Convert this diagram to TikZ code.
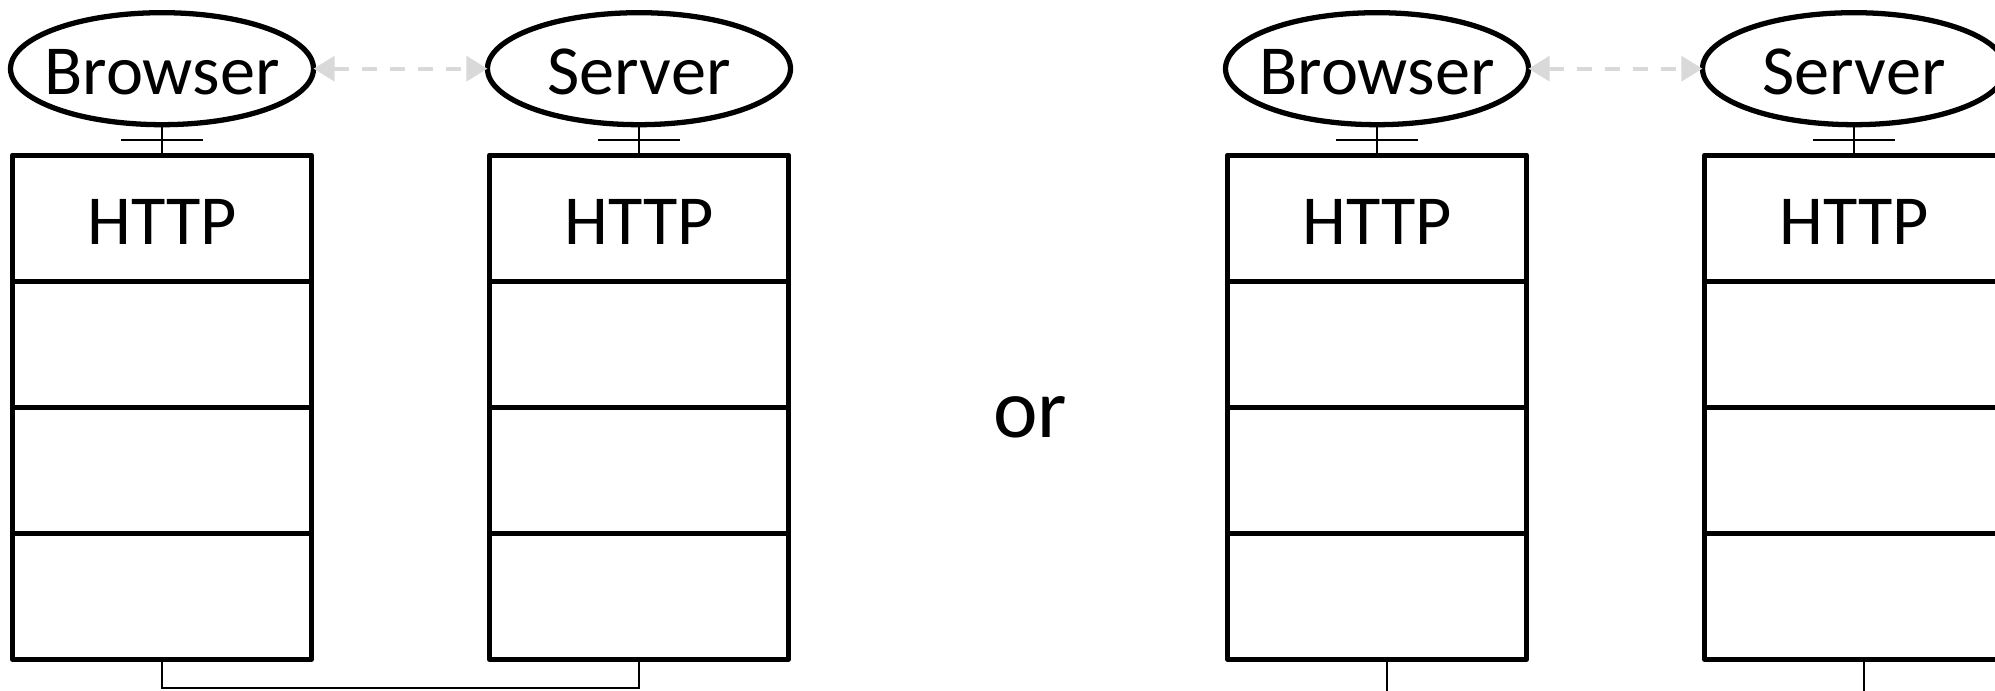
\documentclass[tikz,border=0pt]{standalone}
\usepackage{fontspec}
\setmainfont{Carlito}
\usetikzlibrary{shapes.geometric,positioning,arrows.meta}

\tikzset{
  host/.style={ellipse, draw, line width=1.5pt, minimum width=3.03cm, minimum height=1.12cm,
    inner xsep=-0.15cm, inner ysep=0pt, outer sep=0pt, text height=15pt,
    font=\fontsize{20}{24}\selectfont},
  layer/.style={rectangle, draw, line width=1.5pt, line join=round, minimum width=2.99cm,
    minimum height=1.26cm, inner sep=0pt, outer sep=0pt, text height=15pt,
    font=\fontsize{20}{24}\selectfont},
  link/.style={line width=0.65pt},
  peer/.style={line width=1.2pt, draw=gray!30, dash pattern=on 4.3pt off 3.7pt,
    {Triangle[length=6pt,width=7pt]}-{Triangle[length=6pt,width=7pt]}}
}

\begin{document}
\begin{tikzpicture}
\useasboundingbox (0,0) rectangle (19.95,-6.91);
\clip (0,0) rectangle (19.95,-6.91);
% end hosts
\node[host] (browserL) at (1.62,-0.687) {Browser};
\node[host, right=1.74cm of browserL] (serverL) {Server};
\node[host] (browserR) at (13.77,-0.687) {Browser};
\node[host, right=1.74cm of browserR] (serverR) {Server};
\draw[peer] (browserL) -- (serverL);
\draw[peer] (browserR) -- (serverR);
% protocol stacks
\foreach \h/\s in {browserL/BL, serverL/SL, browserR/BR, serverR/SR}{
  \node[layer, below=0.305cm of \h] (http\s) {HTTP};
  \node[layer, below=0pt of http\s] (lay2\s) {};
  \node[layer, below=0pt of lay2\s] (lay3\s) {};
  \node[layer, below=0pt of lay3\s] (lay4\s) {};
  \draw[link] (\h) -- coordinate (tick\s) (http\s);
  \draw[link] ([xshift=-0.41cm]tick\s) -- ([xshift=0.41cm]tick\s);
}
\node[font=\fontsize{24}{28}\selectfont] (or) at (10.3,-4.17) {or};
% wire between the stacks
\coordinate (busL) at (0,-6.88);
\draw[link] (lay4BL) -- (lay4BL |- busL) -| (lay4SL);
\coordinate (dropBR) at ([xshift=0.1cm,yshift=-0.4cm]lay4BR.south);
\coordinate (dropSR) at ([xshift=0.1cm,yshift=-0.4cm]lay4SR.south);
\draw[link] (dropBR |- lay4BR.south) -- (dropBR);
\draw[link] (dropSR |- lay4SR.south) -- (dropSR);
\end{tikzpicture}
\end{document}
